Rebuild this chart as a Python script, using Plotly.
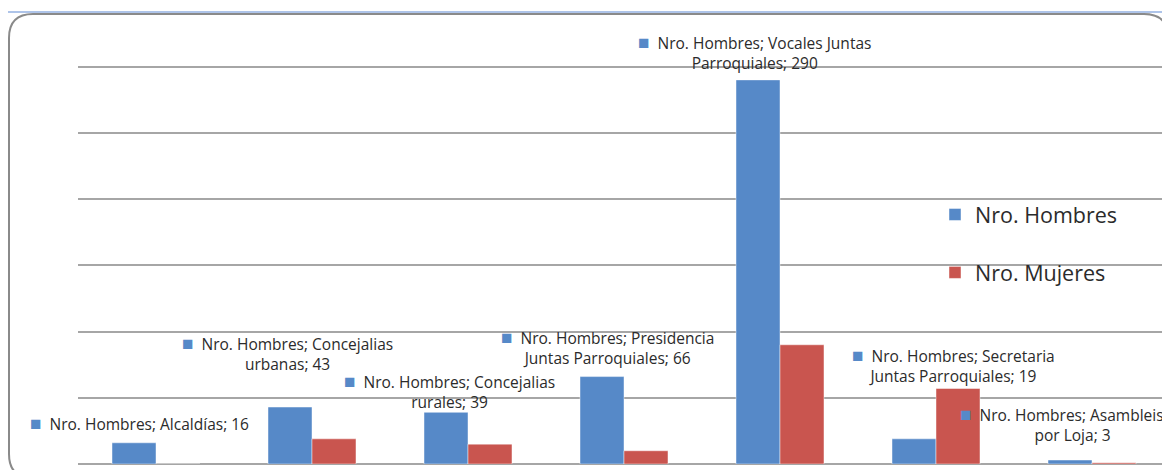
import textwrap
import plotly.graph_objects as go

# ---------------- data ----------------
categories = [
    "Alcaldías",
    "Concejalias urbanas",
    "Concejalias rurales",
    "Presidencia Juntas Parroquiales",
    "Vocales Juntas Parroquiales",
    "Secretaria Juntas Parroquiales",
    "Asambleistas por Loja",
]
hombres = [16, 43, 39, 66, 290, 19, 3]
mujeres = [0, 19, 15, 10, 90, 57, 1]
series_names = ["Nro. Hombres", "Nro. Mujeres"]

# label offsets (pixels) relative to top of the "Hombres" bar
label_xshift = [-17, -25, -19, -17, -26, 17, -20]
label_yshift = [20, 55, 22, 30, 28, 74, 37]

# ---------------- style ----------------
BLUE = "#5689C8"
RED = "#C9554F"
GRID = "#A6A6A6"
TEXT = "#2B2B2B"
FONT = "Open Sans"

OFF = 8                      # page body margin of the html page
W, H = 1170 - OFF, 470 - OFF
ML, MR, MT, MB = 78 - OFF, 0, 64 - OFF, 6
PW, PH = W - ML - MR, H - MT - MB
YMAX = 302


def px(X):
    """page x -> paper x"""
    return (X - 78) / PW


def py(Y):
    """page y -> paper y"""
    return (464 - Y) / PH


fig = go.Figure()
fig.add_trace(go.Bar(
    x=categories, y=hombres, name=series_names[0], legendgroup="h",
    marker=dict(color=BLUE, line=dict(color="rgba(255,255,255,0.45)", width=1)),
))
fig.add_trace(go.Bar(
    x=categories, y=mujeres, name=series_names[1], legendgroup="m",
    marker=dict(color=RED, line=dict(color="rgba(255,255,255,0.45)", width=1)),
))

annotations = []
for i, (cat, v) in enumerate(zip(categories, hombres)):
    raw = f"{series_names[0]}; {cat}; {v}"
    lines = textwrap.wrap(raw, width=28)
    lines[0] = f"<span style='color:{BLUE};font-size:19px'>■</span>  " + lines[0]
    annotations.append(dict(
        x=i, y=v, xref="x", yref="y",
        text="<br>".join(lines), showarrow=False, align="center",
        xanchor="center", yanchor="middle",
        xshift=label_xshift[i], yshift=label_yshift[i],
        font=dict(family=FONT, size=15.5, color=TEXT),
    ))

r = 24
L, T, R, B = 9, 14, 1168, 478
path = (
    f"M {px(L)},{py(T + r)} Q {px(L)},{py(T)} {px(L + r)},{py(T)} "
    f"L {px(R - r)},{py(T)} Q {px(R)},{py(T)} {px(R)},{py(T + r)} "
    f"L {px(R)},{py(B - r)} Q {px(R)},{py(B)} {px(R - r)},{py(B)} "
    f"L {px(L + r)},{py(B)} Q {px(L)},{py(B)} {px(L)},{py(B - r)} Z"
)
shapes = [
    dict(type="path", xref="paper", yref="paper", path=path,
         line=dict(color="#8A8A8A", width=2), fillcolor="rgba(0,0,0,0)", layer="above"),
    dict(type="line", xref="paper", yref="paper", x0=px(8), x1=px(1172), y0=py(12), y1=py(12),
         line=dict(color="#93B1E2", width=1.5), layer="above"),
]

fig.update_layout(
    width=W, height=H,
    margin=dict(l=ML, r=MR, t=MT, b=MB, autoexpand=False),
    paper_bgcolor="white", plot_bgcolor="white",
    barmode="group", bargap=0.436, bargroupgap=0,
    showlegend=True,
    legend=dict(
        x=px(935), y=py(194), xanchor="left", yanchor="top",
        font=dict(family=FONT, size=21.5, color=TEXT),
        traceorder="grouped", tracegroupgap=27, itemwidth=30,
        bgcolor="rgba(0,0,0,0)",
    ),
    xaxis=dict(showticklabels=False, showgrid=False, zeroline=False, showline=False,
               ticks="", range=[-0.5, len(categories) - 0.5]),
    yaxis=dict(range=[0, YMAX], tickvals=[50, 100, 150, 200, 250, 300],
               showticklabels=False, ticks="",
               showgrid=True, gridcolor=GRID, gridwidth=2,
               zeroline=True, zerolinecolor=GRID, zerolinewidth=2, showline=False),
    annotations=annotations,
    shapes=shapes,
    font=dict(family=FONT, color=TEXT),
)

fig.write_html("out.html")
